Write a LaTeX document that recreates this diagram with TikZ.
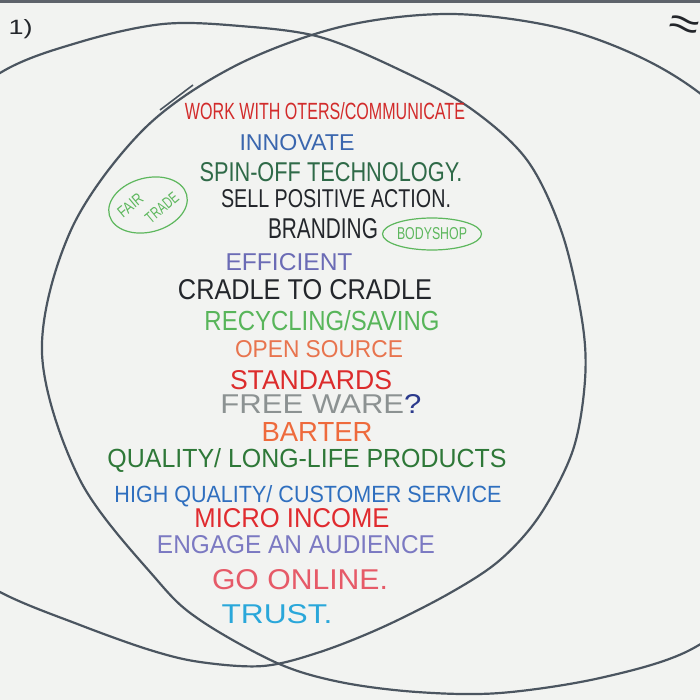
\documentclass[tikz,border=0pt]{standalone}
\usepackage{fontspec}
\setmainfont{Liberation Sans}
\usetikzlibrary{shapes.geometric}

\newlength{\bpx}
\setlength{\bpx}{0.5pt}
\newcommand{\hand}[3]{\resizebox{#1\bpx}{#2\bpx}{#3}}

\definecolor{board}{HTML}{F2F3F1}
\definecolor{frame}{HTML}{5E636B}
\definecolor{rimcol}{HTML}{4B5560}
\definecolor{ink}{HTML}{23262B}
\definecolor{titlered}{HTML}{D22B2B}
\definecolor{innovblue}{HTML}{3A66AE}
\definecolor{spingreen}{HTML}{2F6A48}
\definecolor{bubblegreen}{HTML}{5DB75D}
\definecolor{effviolet}{HTML}{6B6BB5}
\definecolor{recygreen}{HTML}{58B55A}
\definecolor{opensrc}{HTML}{E8744E}
\definecolor{stdred}{HTML}{DC2C2C}
\definecolor{freegray}{HTML}{8C9292}
\definecolor{qblue}{HTML}{2B3A8C}
\definecolor{barterorange}{HTML}{EE6A3C}
\definecolor{qualgreen}{HTML}{2E7838}
\definecolor{highblue}{HTML}{2F6FBF}
\definecolor{microred}{HTML}{E02B2F}
\definecolor{engageviolet}{HTML}{7B79C2}
\definecolor{onlinered}{HTML}{E65A68}
\definecolor{trustcyan}{HTML}{2AA7DA}

\tikzset{
  rim/.style={draw=rimcol, line width=1.1pt, line join=round},
  pen/.style={inner sep=0pt, text=#1},
  bubbleline/.style={draw=bubblegreen, line width=0.6pt},
  bubble/.style={bubbleline, ellipse, inner sep=0pt, text=bubblegreen},
}

\begin{document}
\begin{tikzpicture}[x=0.5pt, y=-0.5pt]
    \useasboundingbox (0,0) rectangle (700,700);
    \fill[board] (0,0) rectangle (700,700);
    \fill[frame] (0,0) rectangle (700,3);

    \begin{scope}
        \clip (0,0) rectangle (700,700);
        \draw[rim] plot[smooth cycle, tension=0.55] coordinates {
            (-150,420) (-160,330) (-140,240) (-80,140) (0,73) (80,42)
            (163,24) (240,26) (320,37) (400,70) (470,108) (527,160)
            (562,233) (582,320) (585,380) (573,450) (540,515) (500,560)
            (450,593) (383,627) (320,652) (263,666) (200,662) (150,650)
            (80,625) (0,592) (-70,545) (-125,490)};
        \draw[rim] plot[smooth cycle, tension=0.55] coordinates {
            (42,353) (71,230) (143,130) (233,67) (340,27) (450,14)
            (560,28) (650,62) (720,110) (790,190) (840,300) (850,400)
            (820,510) (760,595) (690,650) (600,678) (500,693) (417,692)
            (340,682) (277,663) (200,620) (157,580) (80,480)};
        \draw[rim, line width=0.8pt] (160,110) -- (193,85);
    \end{scope}

    \node[pen=ink, anchor=east] (one) at (33,29) {\hand{24}{15}{1)}};
    \node[pen=ink, rotate=-15] (two) at (684,28) {\hand{30}{20}{≈}};

    \node[pen=titlered] (work) at (325,111) {\hand{280}{17}{WORK WITH OTERS/COMMUNICATE}};
    \node[pen=innovblue] (innovate) at (297,143) {\hand{115}{16}{INNOVATE}};
    \node[pen=spingreen] (spinoff) at (331,172) {\hand{263}{19}{SPIN-OFF TECHNOLOGY.}};
    \node[pen=ink] (sell) at (336,199) {\hand{230}{18}{SELL POSITIVE ACTION.}};
    \node[pen=ink] (branding) at (323,229) {\hand{110}{20}{BRANDING}};

    \node[pen=bubblegreen, align=left, rotate=40, font=\fontsize{10}{11}\selectfont] (fairtrade) at (148,205)
        {\hand{28}{11}{FAIR}\\\hspace*{18\bpx}\hand{38}{11}{TRADE}};
    \draw[bubbleline, rotate around={15:(fairtrade.center)}] (fairtrade.center) ellipse [x radius=40, y radius=27];

    \node[bubble, minimum width=91\bpx, minimum height=32\bpx] (bodyshop) at (432,234) {\hand{70}{12}{BODYSHOP}};

    \node[pen=effviolet] (efficient) at (289,262) {\hand{127}{17}{EFFICIENT}};
    \node[pen=ink] (cradle) at (305,290) {\hand{254}{20}{CRADLE TO CRADLE}};
    \node[pen=recygreen] (recycling) at (322,321) {\hand{235}{20}{RECYCLING/SAVING}};
    \node[pen=opensrc] (opensource) at (319,349) {\hand{168}{17}{OPEN SOURCE}};
    \node[pen=stdred] (standards) at (311,380) {\hand{162}{19}{STANDARDS}};
    \node[pen=freegray] (freeware) at (321,404) {\hand{201}{19}{FREE WARE\textcolor{qblue}{?}}};
    \node[pen=barterorange] (barter) at (317,432) {\hand{111}{19}{BARTER}};
    \node[pen=qualgreen] (quality) at (307,460) {\hand{399}{19}{QUALITY/ LONG-LIFE PRODUCTS}};
    \node[pen=highblue] (highquality) at (308,496) {\hand{387}{17}{HIGH QUALITY/ CUSTOMER SERVICE}};
    \node[pen=microred] (micro) at (292,518) {\hand{195}{19}{MICRO INCOME}};
    \node[pen=engageviolet] (engage) at (296,545) {\hand{278}{18}{ENGAGE AN AUDIENCE}};
    \node[pen=onlinered] (goonline) at (300,580) {\hand{176}{20}{GO ONLINE.}};
    \node[pen=trustcyan] (trust) at (277,614) {\hand{111}{19}{TRUST.}};
\end{tikzpicture}
\end{document}
